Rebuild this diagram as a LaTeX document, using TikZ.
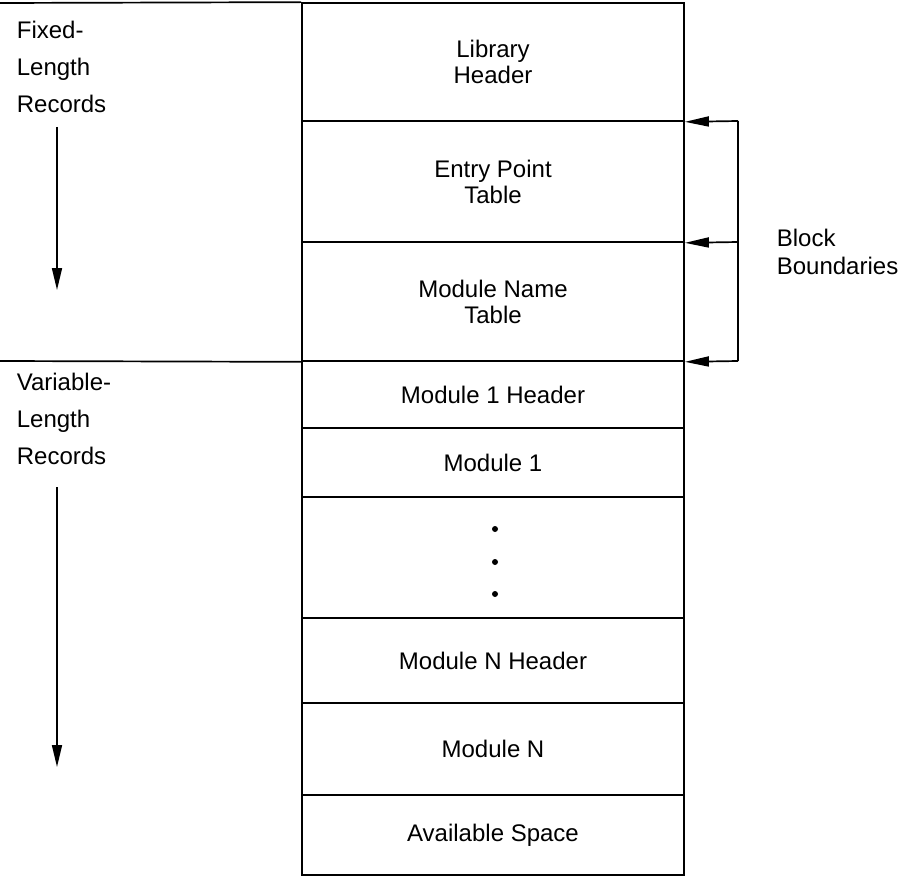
\documentclass[tikz,border=0pt]{standalone}
\usepackage{fontspec}
\setmainfont{Liberation Sans}
\usetikzlibrary{arrows.meta}
\begin{document}
\begin{tikzpicture}[x=1pt,y=-1pt, line width=1.7pt,
  seg/.style={draw, rectangle, minimum width=382pt, inner sep=0pt, align=center, font=\fontsize{24}{26}\selectfont},
  lbl/.style={anchor=north west, align=left, inner sep=0pt, font=\fontsize{24}{37}\selectfont},
  tip/.style={-{Triangle[length=24pt,width=10pt]}},
  ltip/.style={-{Triangle[length=22pt,width=10pt]}}]
\useasboundingbox (0,0) rectangle (901,877);
\node[seg, minimum height=118pt] (lib) at (493,62) {Library\\Header};
\node[seg, minimum height=121pt] (ept) at (493,181.5) {Entry Point\\Table};
\node[seg, minimum height=119pt] (mnt) at (493,301.5) {Module Name\\Table};
\node[seg, minimum height=67pt] (m1h) at (493,394.5) {Module 1 Header};
\node[seg, minimum height=69pt] (m1) at (493,462.5) {Module 1};
\node[seg, minimum height=121pt] (dots) at (493,557.5) {};
\node[seg, minimum height=85pt] (mnh) at (493,660.5) {Module N Header};
\node[seg, minimum height=92pt] (mn) at (493,749) {Module N};
\node[seg, minimum height=80pt] (avail) at (493,835) {Available Space};
\fill ([xshift=2pt,yshift=28.5pt]dots.center) circle (3pt);
\fill ([xshift=2pt,yshift=-4.5pt]dots.center) circle (3pt);
\fill ([xshift=2pt,yshift=-36.5pt]dots.center) circle (3pt);
% top line and separator
\coordinate (tl) at (0,3);
\coordinate (sep) at (0,361);
\draw (tl) -- (lib.north west);
\draw (sep) -- (mnt.south west);
% block boundaries
\coordinate (b1) at (738,121);
\coordinate (b2) at (738,242);
\coordinate (b3) at (738,361);
\draw (b1) -- (b3);
\draw[tip] (b1) -- (lib.south east);
\draw[tip] (b2) -- (ept.south east);
\draw[tip] (b3) -- (mnt.south east);
\node[lbl, font=\fontsize{24}{28}\selectfont] (bb) at (776,228) {Block\\Boundaries};
% left labels
\node[lbl] (fixed) at (16,20) {Fixed-\\Length\\Records};
\node[lbl] (var) at (16,372) {Variable-\\Length\\Records};
\coordinate (fa) at (57,127);
\coordinate (fb) at (57,290);
\coordinate (va) at (57,487);
\coordinate (vb) at (57,767);
\draw[ltip] (fa) -- (fb);
\draw[ltip] (va) -- (vb);
\end{tikzpicture}
\end{document}
